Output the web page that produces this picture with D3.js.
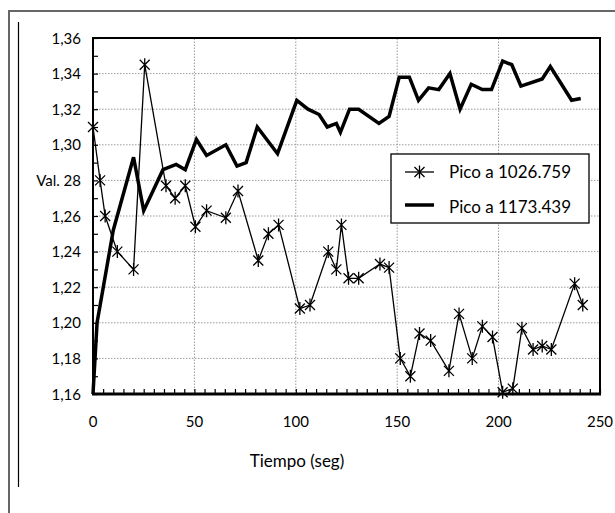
<!DOCTYPE html>
<html>
<head>
<meta charset="utf-8">
<script src="https://d3js.org/d3.v7.min.js"></script>
<style>
  body { margin: 0; background: #fff; }
  svg { font-family: Lato, "Open Sans", sans-serif; }
</style>
</head>
<body>
<svg id="svg" width="615" height="513"></svg>
<script>
// serie con asteriscos (Pico a 1026.759)
var tStar = [0, 3.5, 6, 12, 20, 25.5, 36, 40.5, 45.5, 50.5, 56, 65.5, 71.5, 81.5, 86.5, 91.5, 102, 107, 116, 120, 122.5, 126, 131, 141.5, 146, 151.5, 156.5, 161, 166.5, 175.5, 180.5, 187, 192, 197, 202, 207, 211.5, 217, 221.5, 226, 237.5, 241.5];
var vStar = [1.31, 1.28, 1.26, 1.24, 1.23, 1.345, 1.277, 1.27, 1.277, 1.254, 1.263, 1.259, 1.274, 1.235, 1.25, 1.255, 1.208, 1.21, 1.24, 1.23, 1.255, 1.225, 1.225, 1.233, 1.231, 1.18, 1.17, 1.194, 1.19, 1.173, 1.205, 1.18, 1.198, 1.192, 1.161, 1.163, 1.197, 1.185, 1.187, 1.185, 1.222, 1.21];

// serie linea gruesa (Pico a 1173.439)
var tLine = [0, 2, 10, 20, 25, 34.5, 41, 45.5, 51, 56, 65.5, 71, 75.5, 81, 91, 100.5, 106, 111.5, 115.5, 120, 122, 126.5, 131, 141, 146, 151, 156, 160.5, 165.5, 170.5, 176, 181, 186.5, 192, 196.5, 202, 206.5, 211, 221.5, 225.5, 236, 240.5];
var vLine = [1.16, 1.20, 1.252, 1.293, 1.263, 1.286, 1.289, 1.286, 1.303, 1.294, 1.300, 1.288, 1.290, 1.310, 1.295, 1.325, 1.320, 1.317, 1.310, 1.312, 1.307, 1.320, 1.320, 1.312, 1.316, 1.338, 1.338, 1.325, 1.332, 1.331, 1.340, 1.320, 1.334, 1.331, 1.331, 1.347, 1.345, 1.333, 1.337, 1.344, 1.325, 1.326];

var seriesNames = ["Pico a 1026.759", "Pico a 1173.439"];
var yTicks = [1.16, 1.18, 1.20, 1.22, 1.24, 1.26, 1.28, 1.30, 1.32, 1.34, 1.36];
var yTickLabels = ["1,16", "1,18", "1,20", "1,22", "1,24", "1,26", "Val. 28", "1,30", "1,32", "1,34", "1,36"];
var xTicks = [0, 50, 100, 150, 200, 250];
var xTitle = "Tiempo (seg)";

var svg = d3.select("#svg");

// marco exterior
svg.append("path")
  .attr("d", "M9,513 L9,11 L615,11")
  .attr("fill", "none").attr("stroke", "#666").attr("stroke-width", 2);
svg.append("line")
  .attr("x1", 18.5).attr("x2", 18.5).attr("y1", 22).attr("y2", 487)
  .attr("stroke", "#000").attr("stroke-width", 1.2);

var x = d3.scaleLinear().domain([0, 250]).range([93, 600]);
var y = d3.scaleLinear().domain([1.16, 1.36]).range([394, 38]);

// rejilla punteada
var grid = svg.append("g");
grid.selectAll(".hg").data(yTicks.slice(1, -1)).enter().append("line")
  .attr("x1", x(0)).attr("x2", x(250))
  .attr("y1", d => y(d)).attr("y2", d => y(d))
  .attr("stroke", "#999").attr("stroke-width", 1).attr("stroke-dasharray", "1.5,1.5");
grid.selectAll(".vg").data(xTicks.slice(1, -1)).enter().append("line")
  .attr("x1", d => x(d)).attr("x2", d => x(d))
  .attr("y1", y(1.16)).attr("y2", y(1.36))
  .attr("stroke", "#999").attr("stroke-width", 1).attr("stroke-dasharray", "1.5,1.5");

// ejes con marcas hacia dentro
var xAxis = d3.axisBottom(x).ticks(50).tickSize(-5).tickFormat("");
svg.append("g").attr("transform", "translate(0," + y(1.16) + ")").call(xAxis)
  .call(g => g.select(".domain").remove())
  .selectAll("line").attr("stroke-width", 1.2);
var yAxis = d3.axisLeft(y).ticks(20).tickSize(-5).tickFormat("");
svg.append("g").attr("transform", "translate(" + x(0) + ",0)").call(yAxis)
  .call(g => g.select(".domain").remove())
  .selectAll("line").attr("stroke-width", 1.2);

// marco del grafico
svg.append("rect")
  .attr("x", x(0)).attr("y", y(1.36))
  .attr("width", x(250) - x(0)).attr("height", y(1.16) - y(1.36))
  .attr("fill", "none").attr("stroke", "#000").attr("stroke-width", 2);
svg.append("line")
  .attr("x1", x(0) - 1).attr("x2", x(250) + 1).attr("y1", y(1.16)).attr("y2", y(1.16))
  .attr("stroke", "#000").attr("stroke-width", 3);

// etiquetas
svg.append("g").selectAll("text").data(yTicks).enter().append("text")
  .attr("x", 81).attr("y", d => y(d) + 5.5)
  .attr("text-anchor", "end").attr("font-size", 15)
  .text((d, i) => yTickLabels[i]);
svg.append("g").selectAll("text").data(xTicks).enter().append("text")
  .attr("x", d => x(d)).attr("y", 427)
  .attr("text-anchor", "middle").attr("font-size", 15)
  .text(d => d);
svg.append("text")
  .attr("x", 297).attr("y", 467).attr("text-anchor", "middle")
  .attr("font-size", 17).text(xTitle);

var star = "M-5,-5L5,5M-5,5L5,-5M0,-6.5L0,6.5";

// lineas
var starData = tStar.map((t, i) => [t, vStar[i]]);
var lineData = tLine.map((t, i) => [t, vLine[i]]);
var line = d3.line().x(d => x(d[0])).y(d => y(d[1]));

svg.append("path").datum(lineData)
  .attr("d", line).attr("fill", "none")
  .attr("stroke", "#000").attr("stroke-width", 3.5).attr("stroke-linejoin", "miter");

svg.append("path").datum(starData)
  .attr("d", line).attr("fill", "none")
  .attr("stroke", "#000").attr("stroke-width", 1.3);
svg.append("g").selectAll("path").data(starData).enter().append("path")
  .attr("transform", d => "translate(" + x(d[0]) + "," + y(d[1]) + ")")
  .attr("d", star).attr("fill", "none").attr("stroke", "#000").attr("stroke-width", 1.3);

// leyenda
var leg = svg.append("g");
leg.append("rect").attr("x", 391).attr("y", 154).attr("width", 198).attr("height", 69)
  .attr("fill", "#fff").attr("stroke", "#000").attr("stroke-width", 1.3);
leg.append("line").attr("x1", 405).attr("x2", 434).attr("y1", 172).attr("y2", 172)
  .attr("stroke", "#000").attr("stroke-width", 1.3);
leg.append("path").attr("transform", "translate(419.5,172)").attr("d", star)
  .attr("fill", "none").attr("stroke", "#000").attr("stroke-width", 1.3);
leg.append("line").attr("x1", 405).attr("x2", 434).attr("y1", 205).attr("y2", 205)
  .attr("stroke", "#000").attr("stroke-width", 3.5);
leg.selectAll("text").data(seriesNames).enter().append("text")
  .attr("x", 449).attr("y", (d, i) => 178 + i * 35)
  .attr("font-size", 17).text(d => d);
</script>
</body>
</html>
